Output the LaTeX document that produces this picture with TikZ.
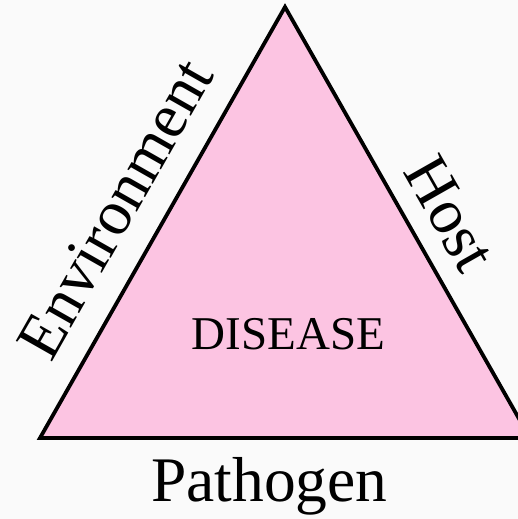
\documentclass[tikz,border=0pt]{standalone}
\usepackage{fontspec}
\setmainfont{Liberation Serif}
\definecolor{trifill}{RGB}{252,196,226}
\definecolor{bgcol}{RGB}{250,250,250}
\begin{document}
\begin{tikzpicture}[x=1pt,y=1pt,
  bigtext/.style={inner sep=0pt,font=\fontsize{63.5}{63.5}\selectfont},
  midtext/.style={inner sep=0pt,font=\fontsize{47}{47}\selectfont},
  tri/.style={draw=black,line width=3.8pt,fill=trifill,line join=miter}]
\useasboundingbox (0,0) rectangle (518,519);
\fill[bgcol] (0,0) rectangle (518,519);
\clip (0,0) rectangle (518,519);
\coordinate (top) at (285,512);
\coordinate (bl) at (40,81);
\coordinate (br) at (530,81);
\draw[tri] (top) -- (bl) -- (br) -- cycle;
\node[midtext,anchor=base west] (disease) at (191.5,169.7) {DISEASE};
\node[bigtext,anchor=base west] (pathogen) at (151,17) {Pathogen};
\node[bigtext,anchor=base west,rotate=60.4] (environment) at (51,155.5) {Environment};
\node[bigtext,anchor=base west,rotate=-60.4] (host) at (402.5,347.5) {Host};
\end{tikzpicture}
\end{document}
